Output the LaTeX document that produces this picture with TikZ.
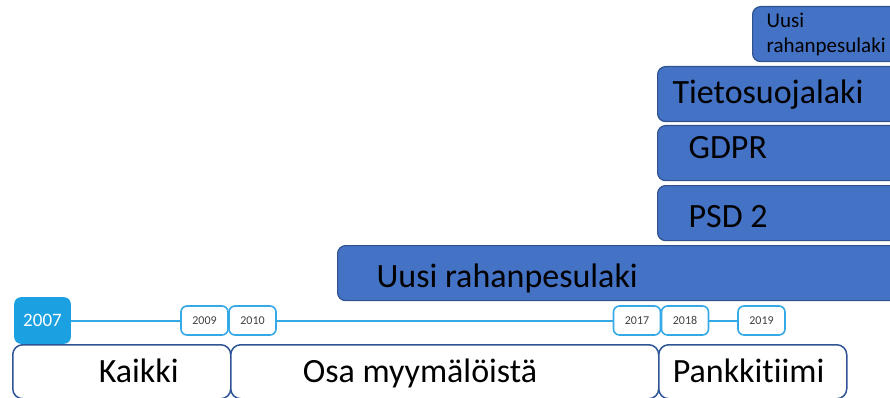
\documentclass[tikz,border=0pt]{standalone}
\usepackage{fontspec}
\setmainfont{Carlito}[RawFeature=-liga]
\definecolor{lawfill}{HTML}{4472C4}
\definecolor{lawedge}{HTML}{2F528F}
\definecolor{stageedge}{HTML}{2F5597}
\definecolor{yearedge}{HTML}{35A8E6}
\definecolor{yearfill}{HTML}{1BA1E2}
\definecolor{yeartext}{HTML}{404040}
\begin{document}
\begin{tikzpicture}[x=1pt,y=-1pt,
  lawbox/.style={draw=lawedge, fill=lawfill, line width=1.2pt, rounded corners=8pt,
    anchor=north west, inner sep=0pt, minimum height=55pt, align=flush left,
    font=\fontsize{34}{40}\selectfont},
  capline/.style={text height=22pt, text depth=0pt},
  stagebox/.style={draw=stageedge, fill=white, line width=1.5pt, rounded corners=10pt,
    anchor=north west, inner sep=0pt, minimum height=54pt, align=flush left,
    font=\fontsize{34}{40}\selectfont, capline},
  yearbox/.style={draw=yearedge, fill=white, line width=1.6pt, rounded corners=6pt,
    minimum width=47pt, minimum height=29pt, inner sep=0pt, text=yeartext,
    font=\fontsize{12}{14}\selectfont},
  startyear/.style={yearbox, fill=yearfill, draw=yearfill, text=white,
    minimum width=55pt, minimum height=45pt, font=\fontsize{19}{22}\selectfont},
  timeline/.style={draw=yearedge, line width=2pt}]
\useasboundingbox (0,0) rectangle (890,398);
\clip (0,0) rectangle (890,398);

% laws coming into force
\node[lawbox, text width=160pt, font=\fontsize{21}{25}\selectfont] (aml2) at (752,6)
  {\hspace*{14pt}Uusi\\\hspace*{14pt}rahanpesulaki};
\node[lawbox, capline, text width=250pt] (tieto) at (657,66)
  {\hspace*{15pt}\raisebox{2pt}{Tietosuojalaki}};
\node[lawbox, capline, text width=250pt] (gdpr) at (657,125)
  {\hspace*{31pt}\raisebox{5.5pt}{GDPR}};
\node[lawbox, capline, text width=250pt] (psd) at (657,185)
  {\hspace*{31pt}\raisebox{-3pt}{PSD 2}};
\node[lawbox, capline, text width=570pt] (aml) at (337,245)
  {\hspace*{39pt}\raisebox{-3pt}{Uusi rahanpesulaki}};

% years on the timeline
\node[startyear] (y2007) at (42.5,320.5) {2007};
\node[yearbox] (y2009) at (204.5,320.5) {2009};
\node[yearbox] (y2010) at (252.5,320.5) {2010};
\node[yearbox] (y2017) at (637,320.5) {2017};
\node[yearbox] (y2018) at (685,320.5) {2018};
\node[yearbox] (y2019) at (761.5,320.5) {2019};
\draw[timeline] (y2007) -- (y2009);
\draw[timeline] (y2010) -- (y2017);
\draw[timeline] (y2018) -- (y2019);

% who handles it
\node[stagebox, text width=218pt] (kaikki) at (12,344) {\hspace*{86pt}Kaikki};
\node[stagebox, text width=428pt] (osa) at (230,344) {\hspace*{72pt}Osa myymälöistä};
\node[stagebox, text width=188pt] (pankki) at (658,344) {\hspace*{14pt}Pankkitiimi};
\end{tikzpicture}
\end{document}
